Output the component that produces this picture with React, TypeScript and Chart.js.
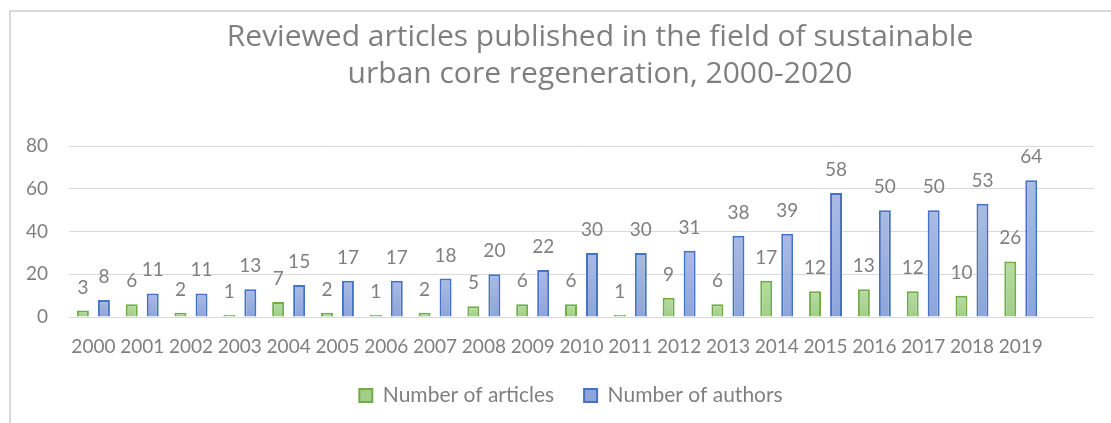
import React, { useEffect, useRef } from 'react';
import { Chart, registerables } from 'chart.js';

Chart.register(...registerables);

const years = ['2000', '2001', '2002', '2003', '2004', '2005', '2006', '2007', '2008', '2009', '2010', '2011', '2012', '2013', '2014', '2015', '2016', '2017', '2018', '2019', ''];
const articles = [3, 6, 2, 1, 7, 2, 1, 2, 5, 6, 6, 1, 9, 6, 17, 12, 13, 12, 10, 26, null];
const authors = [8, 11, 11, 13, 15, 17, 17, 18, 20, 22, 30, 30, 31, 38, 39, 58, 50, 50, 53, 64, null];
const seriesNames = ['Number of articles', 'Number of authors'];
const titleLines = ['Reviewed articles published in the field of sustainable', 'urban core regeneration, 2000-2020'];
const yMin = 0;
const yMax = 80;
const yStep = 20;

const TEXT = '#7f7f7f';
const FONT = 'Lato, "Open Sans", sans-serif';

const barFill = (top: string, bottom: string, solid: string) => (c: any) => {
  const chart = c.chart;
  const ys = chart.scales && chart.scales.y;
  if (!ys || c.raw == null || c.type !== 'data') return solid;
  const y0 = ys.getPixelForValue(c.raw);
  const y1 = ys.getPixelForValue(0);
  if (!isFinite(y0) || !isFinite(y1) || y1 - y0 < 1) return solid;
  const g = chart.ctx.createLinearGradient(0, y0, 0, y1);
  g.addColorStop(0, top);
  g.addColorStop(1, bottom);
  return g;
};

const valueLabels = {
  id: 'valueLabels',
  afterDatasetsDraw(chart: any) {
    const ctx = chart.ctx;
    ctx.save();
    ctx.font = `19px ${FONT}`;
    ctx.fillStyle = TEXT;
    ctx.textAlign = 'center';
    ctx.textBaseline = 'alphabetic';
    chart.data.datasets.forEach((ds: any, di: number) => {
      const meta = chart.getDatasetMeta(di);
      meta.data.forEach((bar: any, i: number) => {
        const v = ds.data[i];
        if (v == null) return;
        ctx.fillText(String(v), bar.x, bar.y - 17);
      });
    });
    ctx.restore();
  },
};

const legendShift = {
  id: 'legendShift',
  afterLayout(chart: any) {
    const lg = chart.legend;
    if (lg) {
      lg.left -= 29;
      lg.right -= 29;
    }
  },
};

export default function App() {
  const ref = useRef<HTMLCanvasElement | null>(null);
  useEffect(() => {
    if (!ref.current) return;
    const chart = new Chart(ref.current, {
      type: 'bar',
      data: {
        labels: years,
        datasets: [
          {
            label: seriesNames[0],
            data: articles,
            backgroundColor: barFill('#b7dba1', '#a1ce86', '#b0d798'),
            borderColor: '#70ad47',
            borderWidth: 2,
            categoryPercentage: 0.86,
            barPercentage: 0.57,
          },
          {
            label: seriesNames[1],
            data: authors,
            backgroundColor: barFill('#aabae3', '#8da5da', '#a0b3e0'),
            borderColor: '#4472c4',
            borderWidth: 2,
            categoryPercentage: 0.86,
            barPercentage: 0.57,
          },
        ],
      },
      options: {
        responsive: false,
        animation: false,
        layout: { padding: 0 },
        plugins: {
          title: {
            display: true,
            text: titleLines,
            color: TEXT,
            font: { family: '"Open Sans", sans-serif', size: 30, weight: 'normal', lineHeight: '37px' },
            padding: { top: 6.5, bottom: 53.5 },
          },
          legend: {
            position: 'bottom',
            labels: {
              color: TEXT,
              font: { family: FONT, size: 21 },
              boxWidth: 13,
              boxHeight: 13,
              padding: 30,
            },
          },
          tooltip: { enabled: false },
        },
        scales: {
          x: {
            grid: { display: false },
            border: { display: false },
            ticks: {
              color: TEXT,
              font: { family: FONT, size: 19 },
              padding: 10,
              autoSkip: false,
              maxRotation: 0,
            },
            afterFit: (s: any) => {
              s.height = 38;
            },
          },
          y: {
            min: yMin,
            max: yMax,
            grid: { color: '#d9d9d9', lineWidth: 1, drawTicks: false },
            border: { display: false },
            ticks: {
              stepSize: yStep,
              color: TEXT,
              font: { family: FONT, size: 19 },
              padding: 21,
            },
            afterFit: (s: any) => {
              s.width = 58;
            },
          },
          yRight: {
            type: 'linear',
            position: 'right',
            display: true,
            grid: { display: false },
            border: { display: false },
            ticks: { display: false },
            afterFit: (s: any) => {
              s.width = 95;
            },
          },
        },
      } as any,
      plugins: [valueLabels, legendShift],
    });
    return () => chart.destroy();
  }, []);

  return (
    <div style={{ position: 'fixed', left: 0, top: 0, width: 1111, height: 423, overflow: 'hidden', background: '#fff' }}>
      <div
        style={{
          position: 'absolute',
          left: 9,
          top: 10,
          width: 1400,
          height: 600,
          border: '2px solid #d9d9d9',
          boxSizing: 'border-box',
        }}
      />
      <div style={{ position: 'absolute', left: 11, top: 12, width: 1178, height: 404 }}>
        <canvas ref={ref} width={1178} height={404} style={{ display: 'block' }} />
      </div>
    </div>
  );
}
